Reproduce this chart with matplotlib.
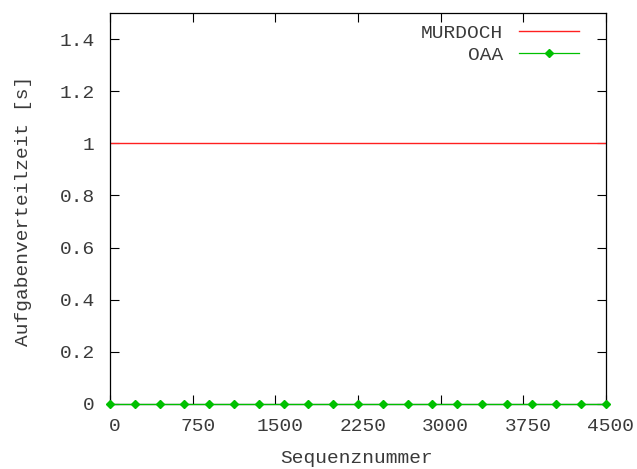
import matplotlib
matplotlib.use("Agg")
import matplotlib.pyplot as plt
import matplotlib.transforms as mtransforms

# Data
murdoch_seq = [0, 4500]
murdoch_time = [1.0, 1.0]
oaa_seq = [0, 225, 450, 675, 900, 1125, 1350, 1575, 1800, 2025, 2250,
           2475, 2700, 2925, 3150, 3375, 3600, 3825, 4050, 4275, 4500]
oaa_time = [0, 0, 0, 0, 0, 0, 0, 0, 0, 0, 0,
            0, 0, 0, 0, 0, 0, 0, 0, 0, 0]
x_ticks = [0, 750, 1500, 2250, 3000, 3750, 4500]
y_ticks = [0, 0.2, 0.4, 0.6, 0.8, 1.0, 1.2, 1.4]
y_tick_labels = ["0", "0.2", "0.4", "0.6", "0.8", "1", "1.2", "1.4"]

FONT = "Liberation Mono"
FS = 14
TXT = "#3a3a3a"

W, H = 637, 469
fig = plt.figure(figsize=(W / 100, H / 100), dpi=100)
L, R, T, B = 110, 606, 13, 404
ax = fig.add_axes([L / W, 1 - B / H, (R - L) / W, (B - T) / H])

ax.plot(murdoch_seq, murdoch_time, color="#ff2020", lw=1.0, label="MURDOCH")
ax.plot(oaa_seq, oaa_time, color="#00c000", lw=0.9, marker="D", ms=4.5,
        mec="#00c000", mfc="#00c000", label="OAA", clip_on=False, zorder=5)

ax.set_xlim(0, 4500)
ax.set_ylim(0, 1.5)
ax.set_xticks(x_ticks)
ax.set_xticklabels([str(v) for v in x_ticks])
ax.set_yticks(y_ticks)
ax.set_yticklabels(y_tick_labels)
ax.tick_params(direction="in", length=6.5, width=0.8, top=True, right=True,
               labelsize=FS, colors="black", labelcolor=TXT)
ax.tick_params(axis="x", pad=10)
ax.tick_params(axis="y", pad=11)
for lab in ax.get_xticklabels() + ax.get_yticklabels():
    lab.set_fontfamily(FONT)
offset = mtransforms.ScaledTranslation(5 / 100, 0, fig.dpi_scale_trans)
for lab in ax.get_xticklabels():
    lab.set_transform(lab.get_transform() + offset)
for sp in ax.spines.values():
    sp.set_linewidth(0.9)
    sp.set_color("black")

fig.text(357 / W, 1 - 458 / H, "Sequenznummer", ha="center", va="center",
         fontsize=FS, family=FONT, color=TXT)
fig.text(24 / W, 1 - 211 / H, "Aufgabenverteilzeit [s]", ha="center", va="center",
         rotation=90, fontsize=FS, family=FONT, color=TXT)

leg = ax.legend(loc="upper right", bbox_to_anchor=(0.965, 0.995), frameon=False,
                prop={"family": FONT, "size": FS}, markerfirst=False,
                handlelength=3.1, handletextpad=0.8, labelspacing=0.2,
                borderaxespad=0.1)
for t in leg.get_texts():
    t.set_color(TXT)

fig.savefig("out.png", dpi=100)
